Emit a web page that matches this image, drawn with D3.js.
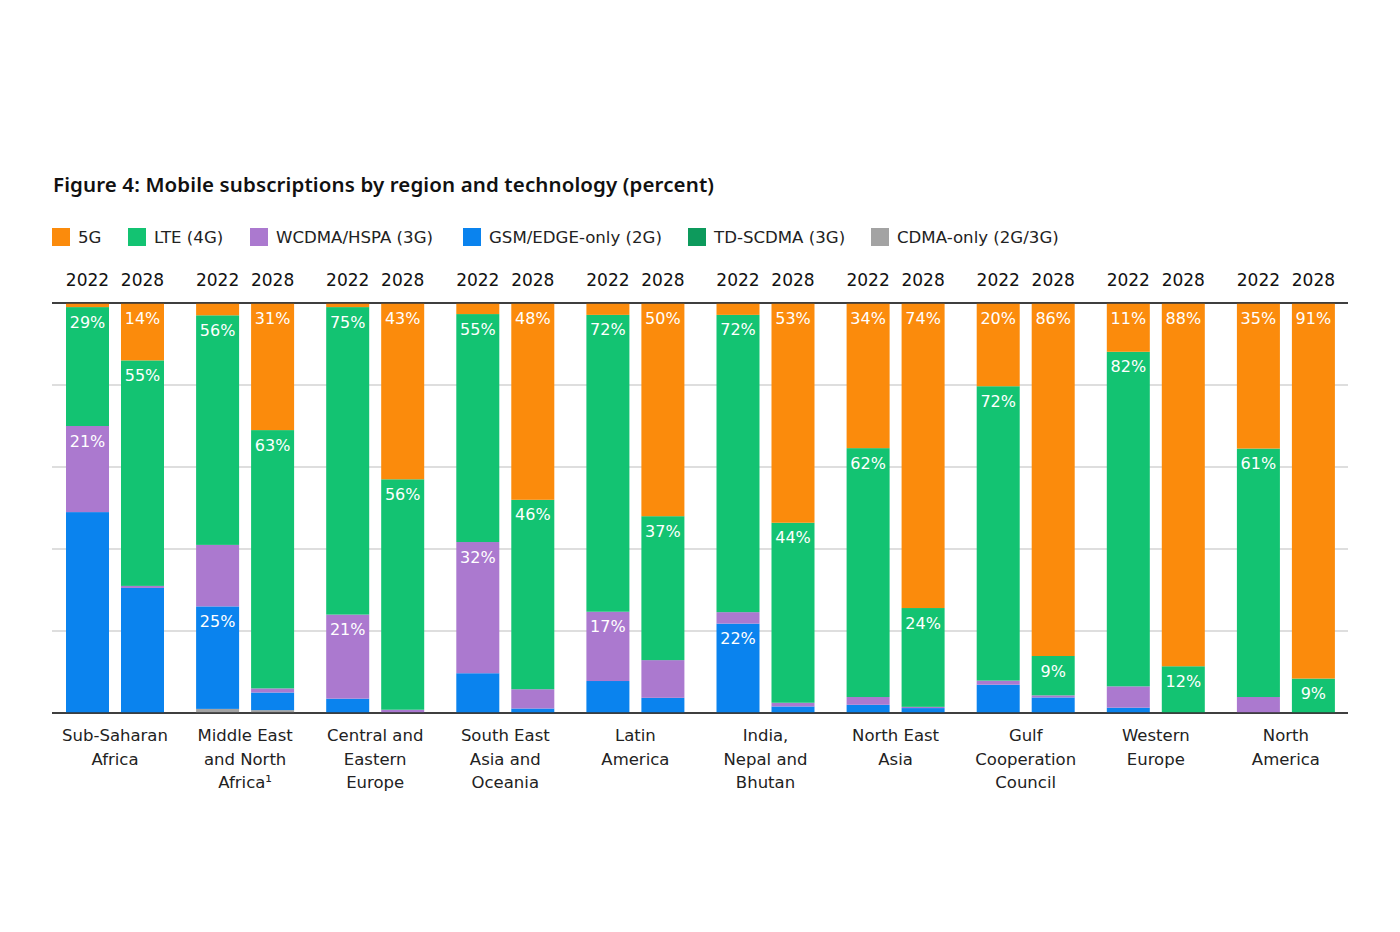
<!DOCTYPE html>
<html><head><meta charset="utf-8">
<script src="https://cdn.jsdelivr.net/npm/d3@7"></script>
<style>body{margin:0;background:#fff}</style>
</head><body>
<svg id="c" width="1400" height="932"></svg>
<script>
const title = "Figure 4: Mobile subscriptions by region and technology (percent)";
const regions = [["Sub-Saharan","Africa"],["Middle East","and North","Africa¹"],["Central and","Eastern","Europe"],["South East","Asia and","Oceania"],["Latin","America"],["India,","Nepal and","Bhutan"],["North East","Asia"],["Gulf","Cooperation","Council"],["Western","Europe"],["North","America"]];
const years = ["2022","2028"];
const seriesKeys = ["g5","lte","wcdma","gsm","td","cdma"];
const seriesNames = ["5G","LTE (4G)","WCDMA/HSPA (3G)","GSM/EDGE-only (2G)","TD-SCDMA (3G)","CDMA-only (2G/3G)"];
const seriesColors = ["#fb8b0c","#13c372","#ab79cf","#0a83ee","#0d9a5c","#a3a3a3"];
const yTicks = [0,20,40,60,80,100];

// values per region: [2022, 2028] (percent)
const fiveG = [[1,14],[3,31],[1,43],[2.7,48],[2.9,52],[2.9,53.6],[35.4,74.4],[20.3,86.1],[11.9,88.6],[35.5,91.6]];
const lte   = [[29,55],[56,63],[75,56.2],[55.6,46.2],[72.4,35.1],[72.5,43.9],[60.7,24.1],[71.8,9.6],[81.6,11.4],[60.6,8.4]];
const wcdma = [[21,0.5],[15,1],[20.5,0.8],[32,4.7],[16.9,9.2],[2.8,0.9],[1.9,0.3],[1,0.5],[5.2,0],[3.9,0]];
const gsm   = [[49,30.5],[25,4.3],[3.5,0],[9.7,1.1],[7.8,3.7],[21.8,1.6],[2,1.2],[6.9,3.8],[1.3,0],[0,0]];
const tdscdma = [[0,0],[0,0],[0,0],[0,0],[0,0],[0,0],[0,0],[0,0],[0,0],[0,0]];
const cdma  = [[0,0],[1,0.7],[0,0],[0,0],[0,0],[0,0],[0,0],[0,0],[0,0],[0,0]];

// printed labels per region: [2022, 2028]
const labG5   = [["","14%"],["","31%"],["","43%"],["","48%"],["","50%"],["","53%"],["34%","74%"],["20%","86%"],["11%","88%"],["35%","91%"]];
const labLTE  = [["29%","55%"],["56%","63%"],["75%","56%"],["55%","46%"],["72%","37%"],["72%","44%"],["62%","24%"],["72%","9%"],["82%","12%"],["61%","9%"]];
const labWCDMA= [["21%",""],["",""],["21%",""],["32%",""],["17%",""],["",""],["",""],["",""],["",""],["",""]];
const labGSM  = [["",""],["25%",""],["",""],["",""],["",""],["22%",""],["",""],["",""],["",""],["",""]];

const seriesData = {g5:fiveG, lte:lte, wcdma:wcdma, gsm:gsm, td:tdscdma, cdma:cdma};
const seriesLabels = {g5:labG5, lte:labLTE, wcdma:labWCDMA, gsm:labGSM};
const colorOf = d3.scaleOrdinal().domain(seriesKeys).range(seriesColors);

const rows = [];
regions.forEach((r,i)=>years.forEach((yv,j)=>{
  const row = {ri:i, year:yv, yi:j};
  seriesKeys.forEach(k=>row[k]=seriesData[k][i][j]);
  rows.push(row);
}));

const svg = d3.select("#c");
const pLeft = 52, pRight = 1348, pTop = 303, pBottom = 713;

const x0 = d3.scaleBand().domain(d3.range(regions.length)).range([pLeft,1353]).paddingInner(0).paddingOuter(0);
const x1 = d3.scaleBand().domain(years).range([14,112]).paddingInner(0.218);
const y = d3.scaleLinear().domain([0,100]).range([pBottom,pTop]);

// title
svg.append("text").attr("x",53).attr("y",192).attr("font-family","'Noto Sans', sans-serif")
  .attr("font-weight",600).attr("font-size",20.5).attr("fill","#111")
  .attr("textLength",661).attr("lengthAdjust","spacing").text(title);

// legend
const legX = [52,128,250,463,688,871];
const leg = svg.append("g");
seriesNames.forEach((n,i)=>{
  leg.append("rect").attr("x",legX[i]).attr("y",228).attr("width",18).attr("height",18).attr("fill",seriesColors[i]);
  leg.append("text").attr("x",legX[i]+26).attr("y",243).attr("font-family","'DejaVu Sans', sans-serif")
    .attr("font-size",16.6).attr("fill","#222").text(n);
});

// gridlines
const grid = svg.append("g");
yTicks.forEach(t=>{
  const edge = (t===0||t===100);
  grid.append("line").attr("x1",pLeft).attr("x2",pRight).attr("y1",y(t)).attr("y2",y(t))
    .attr("stroke", edge ? "#333" : "#bdbdbd").attr("stroke-width", edge ? 1.3 : 1);
});

// stack (bottom to top)
const stackKeys = ["cdma","gsm","td","wcdma","lte","g5"];
const stacked = d3.stack().keys(stackKeys)(rows);

const bars = svg.append("g");
stacked.forEach(layer=>{
  bars.selectAll(null).data(layer).join("rect")
    .attr("x", d=>x0(d.data.ri)+x1(d.data.year))
    .attr("width", x1.bandwidth())
    .attr("y", d=>y(d[1]))
    .attr("height", d=>Math.max(0,y(d[0])-y(d[1])))
    .attr("fill", colorOf(layer.key));
});
// redraw edge lines on top
yTicks.filter(t=>t===0||t===100).forEach(t=>{
  svg.append("line").attr("x1",pLeft).attr("x2",pRight).attr("y1",y(t)).attr("y2",y(t))
    .attr("stroke","#333").attr("stroke-width",1.3);
});

// segment labels
const labs = svg.append("g").attr("font-family","'DejaVu Sans', sans-serif").attr("font-size",16).attr("fill","#fff").attr("text-anchor","middle");
stacked.forEach(layer=>{
  const L = seriesLabels[layer.key];
  if(!L) return;
  layer.forEach(d=>{
    const t = L[d.data.ri][d.data.yi];
    if(!t) return;
    labs.append("text").attr("x", x0(d.data.ri)+x1(d.data.year)+x1.bandwidth()/2)
      .attr("y", y(d[1])+20.5).text(t);
  });
});

// year labels
const yl = svg.append("g").attr("font-family","'DejaVu Sans', sans-serif").attr("font-size",17).attr("fill","#111").attr("text-anchor","middle");
regions.forEach((r,i)=>years.forEach(yr=>{
  yl.append("text").attr("x",x0(i)+x1(yr)+x1.bandwidth()/2).attr("y",286).text(yr);
}));

// region labels
const rl = svg.append("g").attr("font-family","'DejaVu Sans', sans-serif").attr("font-size",16.5).attr("fill","#222").attr("text-anchor","middle");
regions.forEach((r,i)=>{
  const cx = x0(i)+(x1("2022")+x1("2028")+x1.bandwidth())/2;
  r.forEach((line,k)=>{
    rl.append("text").attr("x",cx).attr("y",741+k*23.5).text(line);
  });
});
</script>
</body></html>
